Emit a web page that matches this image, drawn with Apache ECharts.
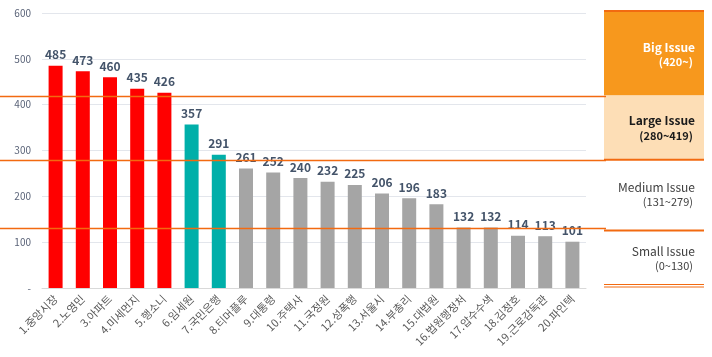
<!DOCTYPE html>
<html><head><meta charset="utf-8">
<script src="https://cdn.jsdelivr.net/npm/echarts@6/dist/echarts.min.js"></script>
<style>html,body{margin:0;padding:0;background:#fff}#c{width:712px;height:357px}</style>
</head><body><div id="c"></div>
<script>
const categories = ['1.중앙시장','2.노영민','3.아파트','4.미세먼지','5.행소니','6.임세원','7.국민은행','8.티머플루','9.대통령','10.주택사','11.국정원','12.성폭행','13.서울시','14.부총리','15.대법원','16.법원행정처','17.압수수색','18.김정호','19.근로감독관','20.파인텍'];
const values = [485,473,460,435,426,357,291,261,252,240,232,225,206,196,183,132,132,114,113,101];
const yTicks = [0,100,200,300,400,500,600];
const thresholds = [420,280,130];
const bands = [
  {title:'Big Issue', range:'(420~)', lo:420, hi:600},
  {title:'Large Issue', range:'(280~419)', lo:280, hi:420},
  {title:'Medium Issue', range:'(131~279)', lo:130, hi:280},
  {title:'Small Issue', range:'(0~130)', lo:0, hi:130}
];
const FONT = '"Noto Sans CJK KR","Noto Sans",sans-serif';
function barColor(v){ return v>=thresholds[0] ? '#FF0000' : (v>=thresholds[1] ? '#00AFA9' : '#A5A5A5'); }

const chart = echarts.init(document.getElementById('c'));
chart.setOption({
  animation:false,
  grid:{left:42,right:126,top:13,bottom:69},
  xAxis:{type:'category',data:categories,
    axisLine:{lineStyle:{color:'#D9D9D9'}},axisTick:{show:false},
    axisLabel:{interval:0,rotate:45,fontSize:11,color:'#595959',fontFamily:FONT,margin:9}},
  yAxis:{type:'value',min:yTicks[0],max:yTicks[yTicks.length-1],interval:100,
    axisLine:{show:false},axisTick:{show:false},
    splitLine:{lineStyle:{color:'#E3E6EC'}},
    axisLabel:{fontSize:10,color:'#5A6378',fontFamily:FONT,margin:11,formatter:v=>v===0?'-':String(v)}},
  series:[{type:'bar',data:values.map(v=>({value:v,itemStyle:{color:barColor(v)}})),
    barWidth:14,
    label:{show:true,position:'top',distance:5,fontSize:12,fontWeight:'bold',color:'#44546A',fontFamily:FONT}}]
});

function py(v){ return chart.convertToPixel({yAxisIndex:0}, v); }
const PX0 = 604, PX1 = 704, ORANGE = '#F26A10';
const g = [];
g.push({type:'rect',shape:{x:PX0,y:py(600)-2,width:PX1-PX0,height:py(420)-py(600)+2},style:{fill:'#F7981D'}});
g.push({type:'rect',shape:{x:PX0,y:py(420),width:PX1-PX0,height:py(280)-py(420)},style:{fill:'#FDDEB6'}});
g.push({type:'line',shape:{x1:PX0,y1:py(600)-2,x2:PX1,y2:py(600)-2},style:{stroke:ORANGE,lineWidth:2}});
g.push({type:'line',shape:{x1:PX0,y1:py(280),x2:PX1,y2:py(280)},style:{stroke:ORANGE,lineWidth:2}});
g.push({type:'line',shape:{x1:PX0,y1:py(130)+2,x2:PX1,y2:py(130)+2},style:{stroke:ORANGE,lineWidth:2}});
g.push({type:'line',shape:{x1:PX0,y1:py(0)-3.5,x2:PX1,y2:py(0)-3.5},style:{stroke:ORANGE,lineWidth:1}});
g.push({type:'line',shape:{x1:PX0,y1:py(0)-1,x2:PX1,y2:py(0)-1},style:{stroke:ORANGE,lineWidth:1}});
thresholds.forEach(t=>{
  const y = Math.round(py(t))+0.5;
  g.push({type:'line',z:10,shape:{x1:0,y1:y,x2:PX0+2,y2:y},style:{stroke:ORANGE,lineWidth:1.5}});
});
bands.forEach((b,i)=>{
  const mid = (py(Math.min(b.hi,600))+py(b.lo))/2;
  const bold = i<2;
  const col = i===0 ? '#FFFFFF' : (i===1 ? '#1A1A1A' : '#404040');
  g.push({type:'text',z:20,style:{x:695,y:mid-7,text:b.title,fill:col,font:(bold?'bold ':'')+'12px '+FONT,textAlign:'right',textVerticalAlign:'middle'}});
  g.push({type:'text',z:20,style:{x:693,y:mid+8,text:b.range,fill:col,font:(bold?'bold ':'')+'11px '+FONT,textAlign:'right',textVerticalAlign:'middle'}});
});
chart.setOption({graphic:g});
</script></body></html>
